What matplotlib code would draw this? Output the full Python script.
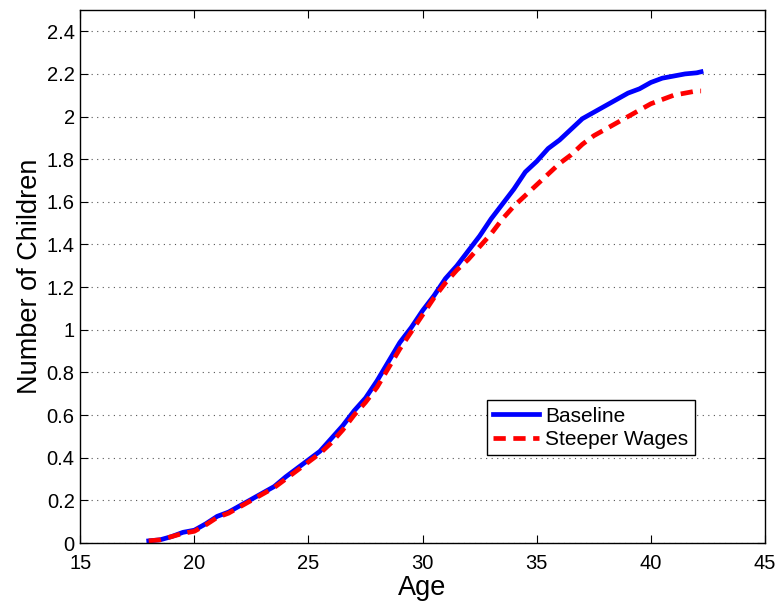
import matplotlib.pyplot as plt
import numpy as np

plt.rcParams['font.family'] = ['Liberation Sans', 'DejaVu Sans']

# Completed fertility by age, half-year steps
age = [18.0, 18.5, 19.0, 19.5, 20.0, 20.5, 21.0, 21.5, 22.0, 22.5, 23.0, 23.5,
       24.0, 24.5, 25.0, 25.5, 26.0, 26.5, 27.0, 27.5, 28.0, 28.5, 29.0, 29.5,
       30.0, 30.5, 31.0, 31.5, 32.0, 32.5, 33.0, 33.5, 34.0, 34.5, 35.0, 35.5,
       36.0, 36.5, 37.0, 37.5, 38.0, 38.5, 39.0, 39.5, 40.0, 40.5, 41.0, 41.5,
       42.0, 42.2]
baseline = [0.01, 0.015, 0.03, 0.05, 0.06, 0.09, 0.125, 0.145, 0.175, 0.205,
            0.235, 0.265, 0.31, 0.35, 0.39, 0.43, 0.49, 0.55, 0.62, 0.68,
            0.76, 0.85, 0.94, 1.01, 1.09, 1.16, 1.24, 1.30, 1.37, 1.44,
            1.52, 1.59, 1.66, 1.74, 1.79, 1.85, 1.89, 1.94, 1.99, 2.02,
            2.05, 2.08, 2.11, 2.13, 2.16, 2.18, 2.19, 2.20, 2.205, 2.21]
steeper = [0.01, 0.015, 0.03, 0.045, 0.055, 0.085, 0.12, 0.14, 0.17, 0.20,
           0.23, 0.26, 0.30, 0.34, 0.38, 0.42, 0.47, 0.53, 0.60, 0.66,
           0.73, 0.82, 0.91, 0.99, 1.07, 1.15, 1.22, 1.28, 1.33, 1.39,
           1.45, 1.52, 1.58, 1.63, 1.68, 1.73, 1.78, 1.82, 1.87, 1.91,
           1.94, 1.97, 2.00, 2.03, 2.06, 2.08, 2.10, 2.11, 2.12, 2.12]

fig = plt.figure(figsize=(7.79, 6.03), dpi=100)
ax = fig.add_axes([0.103, 0.0995, 0.879, 0.884])

ax.plot(age, baseline, color='#0000ff', lw=3.4, label='Baseline')
ax.plot(age, steeper, color='#ff0000', lw=3.4, ls=(0, (2.6, 1.6)),
        label='Steeper Wages')

ax.set_xlim(15, 45)
ax.set_ylim(0, 2.5)
ax.set_xticks(np.arange(15, 46, 5))
ax.set_yticks(np.arange(0, 2.41, 0.2))
ax.set_yticklabels(['0'] + ['%g' % v for v in np.arange(0.2, 2.41, 0.2)])
ax.yaxis.grid(True, color='#555555', ls=(0, (1, 4)), lw=0.8)
ax.tick_params(direction='in', top=True, right=True, labelsize=14.5,
               length=6, width=0.8)
ax.tick_params(axis='x', pad=8)
ax.tick_params(axis='y', pad=4)
for s in ax.spines.values():
    s.set_linewidth(1.0)

ax.set_xlabel('Age', fontsize=19.5, labelpad=1)
ax.set_ylabel('Number of Children', fontsize=19.5, labelpad=3)

leg = ax.legend(loc='lower left', bbox_to_anchor=(0.594, 0.165), fontsize=15,
                fancybox=False, framealpha=1, edgecolor='black',
                handlelength=2.2, borderpad=0.3, labelspacing=0.2,
                handletextpad=0.3, borderaxespad=0)
leg.get_frame().set_linewidth(1.0)

fig.savefig('out.png', dpi=100)
